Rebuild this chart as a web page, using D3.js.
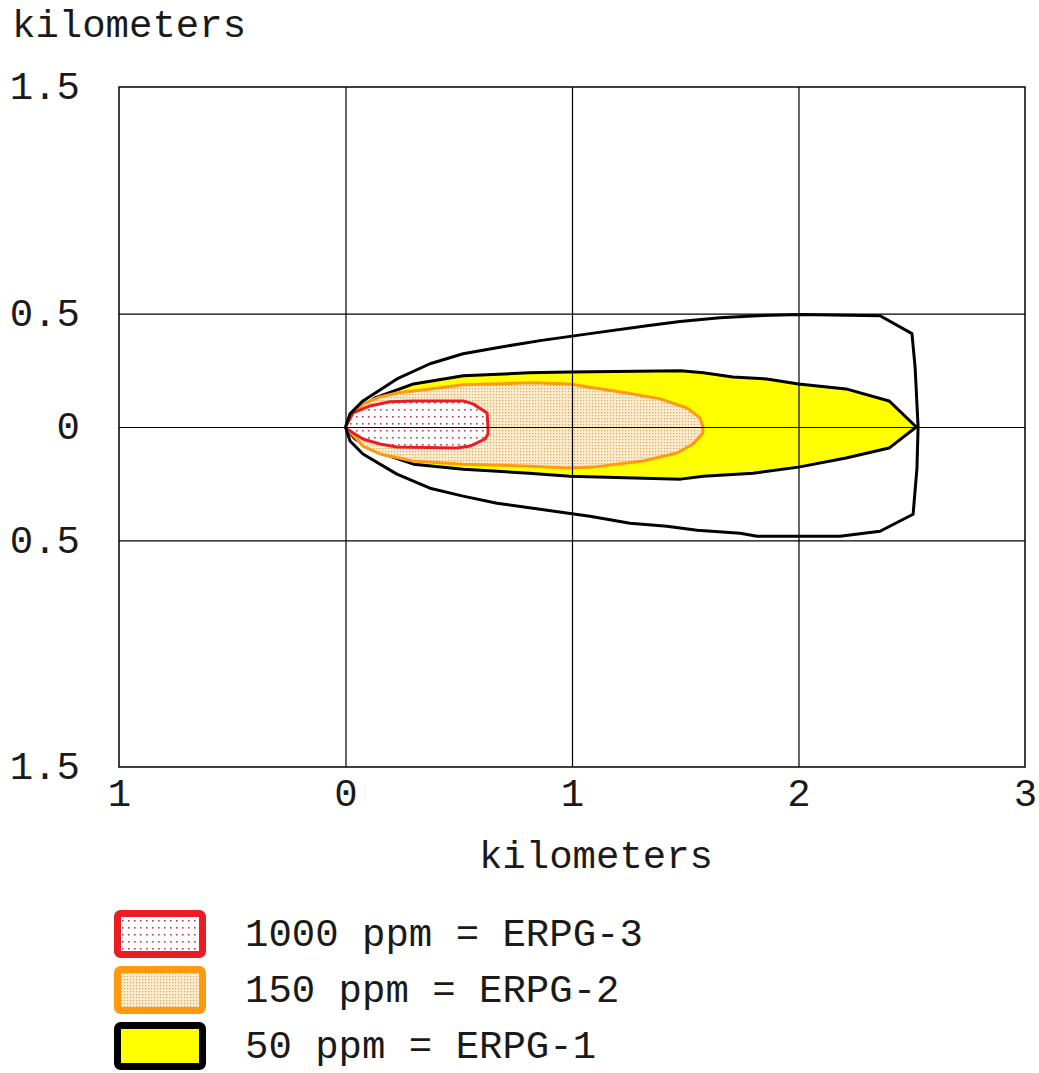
<!DOCTYPE html>
<html>
<head>
<meta charset="utf-8">
<script src="https://cdn.jsdelivr.net/npm/d3@7"></script>
<style>
  html, body { margin: 0; padding: 0; background: #fff; }
  svg text { font-family: "Liberation Mono", "Courier New", monospace; fill: #1a1a1a; }
</style>
</head>
<body>
<svg id="chart" width="1039" height="1073"></svg>
<script>
// Threat-zone footprint, downwind distance (x) vs crosswind distance (y), km.
const xTicks = [-1, 0, 1, 2, 3];
const xTickLabels = ["1", "0", "1", "2", "3"];
const yTicks = [1.5, 0.5, 0, -0.5, -1.5];
const yTickLabels = ["1.5", "0.5", "0", "0.5", "1.5"];
const xGrid = [0, 1, 2];
const yGrid = [0.5, 0, -0.5];

// Outer confidence line around the ERPG-1 zone
const confidenceLine = [
  [0, 0], [0.02, 0.058], [0.077, 0.115], [0.227, 0.212], [0.373, 0.279],
  [0.519, 0.323], [0.669, 0.35], [0.859, 0.381], [1.079, 0.412], [1.331, 0.447],
  [1.477, 0.465], [1.653, 0.482], [1.817, 0.491], [2.007, 0.496], [2.36, 0.491],
  [2.501, 0.412], [2.515, 0.261], [2.528, 0],
  [2.523, -0.181], [2.506, -0.385], [2.36, -0.46], [2.183, -0.482], [1.817, -0.482],
  [1.742, -0.469], [1.552, -0.456], [1.419, -0.438], [1.256, -0.425], [1.079, -0.394],
  [0.859, -0.363], [0.669, -0.336], [0.519, -0.305], [0.373, -0.27], [0.227, -0.208],
  [0.077, -0.119], [0.02, -0.062], [0, 0]
];

// ERPG-1 zone (50 ppm)
const zoneErpg1 = [
  [0, 0], [0.042, 0.062], [0.13, 0.128], [0.3, 0.19], [0.52, 0.226], [0.81, 0.239],
  [0.99, 0.243], [1.48, 0.248], [1.58, 0.239], [1.71, 0.221], [1.86, 0.212],
  [2.0, 0.19], [2.21, 0.168], [2.4, 0.115], [2.52, 0],
  [2.4, -0.093], [2.21, -0.137], [2.0, -0.177], [1.8, -0.204], [1.58, -0.217],
  [1.48, -0.23], [0.99, -0.217], [0.81, -0.204], [0.52, -0.186], [0.3, -0.164],
  [0.13, -0.106], [0.042, -0.053], [0, 0]
];

// ERPG-2 zone (150 ppm)
const zoneErpg2 = [
  [0, 0], [0.077, 0.102], [0.152, 0.133], [0.227, 0.15], [0.373, 0.168], [0.519, 0.186],
  [0.815, 0.195], [0.991, 0.19], [1.093, 0.173], [1.243, 0.15], [1.389, 0.124],
  [1.508, 0.084], [1.565, 0.04], [1.578, 0],
  [1.578, -0.027], [1.534, -0.075], [1.464, -0.115], [1.313, -0.15], [1.093, -0.177],
  [0.991, -0.181], [0.815, -0.173], [0.519, -0.164], [0.298, -0.15], [0.152, -0.119],
  [0.077, -0.084], [0, 0]
];

// ERPG-3 zone (1000 ppm)
const zoneErpg3 = [
  [0, 0], [0.033, 0.062], [0.108, 0.093], [0.196, 0.111], [0.298, 0.115], [0.519, 0.115],
  [0.563, 0.102], [0.625, 0.062], [0.629, 0],
  [0.629, -0.031], [0.616, -0.053], [0.55, -0.084], [0.492, -0.093], [0.227, -0.088],
  [0.152, -0.075], [0.077, -0.053], [0.007, -0.009], [0, 0]
];

const legendLabels = ["1000 ppm = ERPG-3", "150 ppm = ERPG-2", "50 ppm = ERPG-1"];

const svg = d3.select("#chart");
const plot = { left: 119, right: 1025, top: 87, bottom: 767 };

const x = d3.scaleLinear().domain([-1, 3]).range([plot.left, plot.right]);
const y = d3.scaleLinear().domain([-1.5, 1.5]).range([plot.bottom, plot.top]);

// Fill patterns
const defs = svg.append("defs");
const pRed = defs.append("pattern").attr("id", "dotsRed")
  .attr("patternUnits", "userSpaceOnUse").attr("width", 6).attr("height", 7);
pRed.append("rect").attr("width", 6).attr("height", 7).attr("fill", "#ffffff");
pRed.append("rect").attr("x", 2).attr("y", 3).attr("width", 1.6).attr("height", 1.6).attr("fill", "#b8405a");

const pOrange = defs.append("pattern").attr("id", "dotsOrange")
  .attr("patternUnits", "userSpaceOnUse").attr("width", 3).attr("height", 3);
pOrange.append("rect").attr("width", 3).attr("height", 3).attr("fill", "#faeccf");
pOrange.append("rect").attr("x", 1).attr("y", 1).attr("width", 1.2).attr("height", 1.2).attr("fill", "#e3a65a");

const line = d3.line().x(d => x(d[0])).y(d => y(d[1])).curve(d3.curveLinear);

// Zones
const zones = svg.append("g");
zones.append("path").datum(zoneErpg1).attr("d", line)
  .attr("fill", "#ffff00").attr("stroke", "#000").attr("stroke-width", 3).attr("stroke-linejoin", "round");
zones.append("path").datum(zoneErpg2).attr("d", line)
  .attr("fill", "url(#dotsOrange)").attr("stroke", "#ff9a10").attr("stroke-width", 3).attr("stroke-linejoin", "round");
zones.append("path").datum(zoneErpg3).attr("d", line)
  .attr("fill", "url(#dotsRed)").attr("stroke", "#ea1c24").attr("stroke-width", 3).attr("stroke-linejoin", "round");

// Grid
const grid = svg.append("g");
grid.append("g").attr("transform", `translate(0,${plot.bottom})`)
  .call(d3.axisBottom(x).tickValues(xGrid).tickSize(-(plot.bottom - plot.top)).tickFormat(""))
  .call(g => g.select(".domain").remove())
  .call(g => g.selectAll("line").attr("stroke", "#000").attr("stroke-width", 1.2));
grid.append("g").attr("transform", `translate(${plot.left},0)`)
  .call(d3.axisLeft(y).tickValues(yGrid).tickSize(-(plot.right - plot.left)).tickFormat(""))
  .call(g => g.select(".domain").remove())
  .call(g => g.selectAll("line").attr("stroke", "#000").attr("stroke-width", 1.2));

// Confidence line on top
svg.append("path").datum(confidenceLine).attr("d", line)
  .attr("fill", "none").attr("stroke", "#000").attr("stroke-width", 3).attr("stroke-linejoin", "round");

// Frame
svg.append("rect").attr("x", plot.left).attr("y", plot.top)
  .attr("width", plot.right - plot.left).attr("height", plot.bottom - plot.top)
  .attr("fill", "none").attr("stroke", "#000").attr("stroke-width", 1.5);

// Axis labels
const fs = 39;
svg.append("g").attr("transform", `translate(0,${plot.bottom})`)
  .call(d3.axisBottom(x).tickValues(xTicks).tickSize(0).tickPadding(0)
    .tickFormat((d, i) => xTickLabels[i]))
  .call(g => g.select(".domain").remove())
  .call(g => g.selectAll("text").attr("font-size", fs).attr("dy", null).attr("y", 39)
    .attr("font-family", null).attr("fill", "#1a1a1a"));

svg.append("g").attr("transform", `translate(${plot.left},0)`)
  .call(d3.axisLeft(y).tickValues(yTicks).tickSize(0).tickPadding(0)
    .tickFormat((d, i) => yTickLabels[i]))
  .call(g => g.select(".domain").remove())
  .call(g => g.selectAll("text").attr("font-size", fs).attr("x", -39).attr("dy", "0.3em")
    .attr("font-family", null).attr("fill", "#1a1a1a"));

svg.append("text").attr("x", 12).attr("y", 37).attr("font-size", fs).text("kilometers");
svg.append("text").attr("x", 596).attr("y", 868).attr("font-size", fs)
  .attr("text-anchor", "middle").text("kilometers");

// Legend
const legendStyles = [
  { fill: "url(#dotsRed)", stroke: "#ea1c24" },
  { fill: "url(#dotsOrange)", stroke: "#ff9a10" },
  { fill: "#ffff00", stroke: "#000" }
];
const legend = svg.append("g");
const rowY = d3.scalePoint().domain(legendLabels).range([934, 1046]);
legendLabels.forEach((lab, i) => {
  const cy = rowY(lab);
  legend.append("rect").attr("x", 117.5).attr("y", cy - 20.5).attr("width", 85).attr("height", 41)
    .attr("rx", 3).attr("fill", legendStyles[i].fill)
    .attr("stroke", legendStyles[i].stroke).attr("stroke-width", 7);
  legend.append("text").attr("x", 245).attr("y", cy).attr("dy", "0.32em")
    .attr("font-size", fs).text(lab);
});
</script>
</body>
</html>
